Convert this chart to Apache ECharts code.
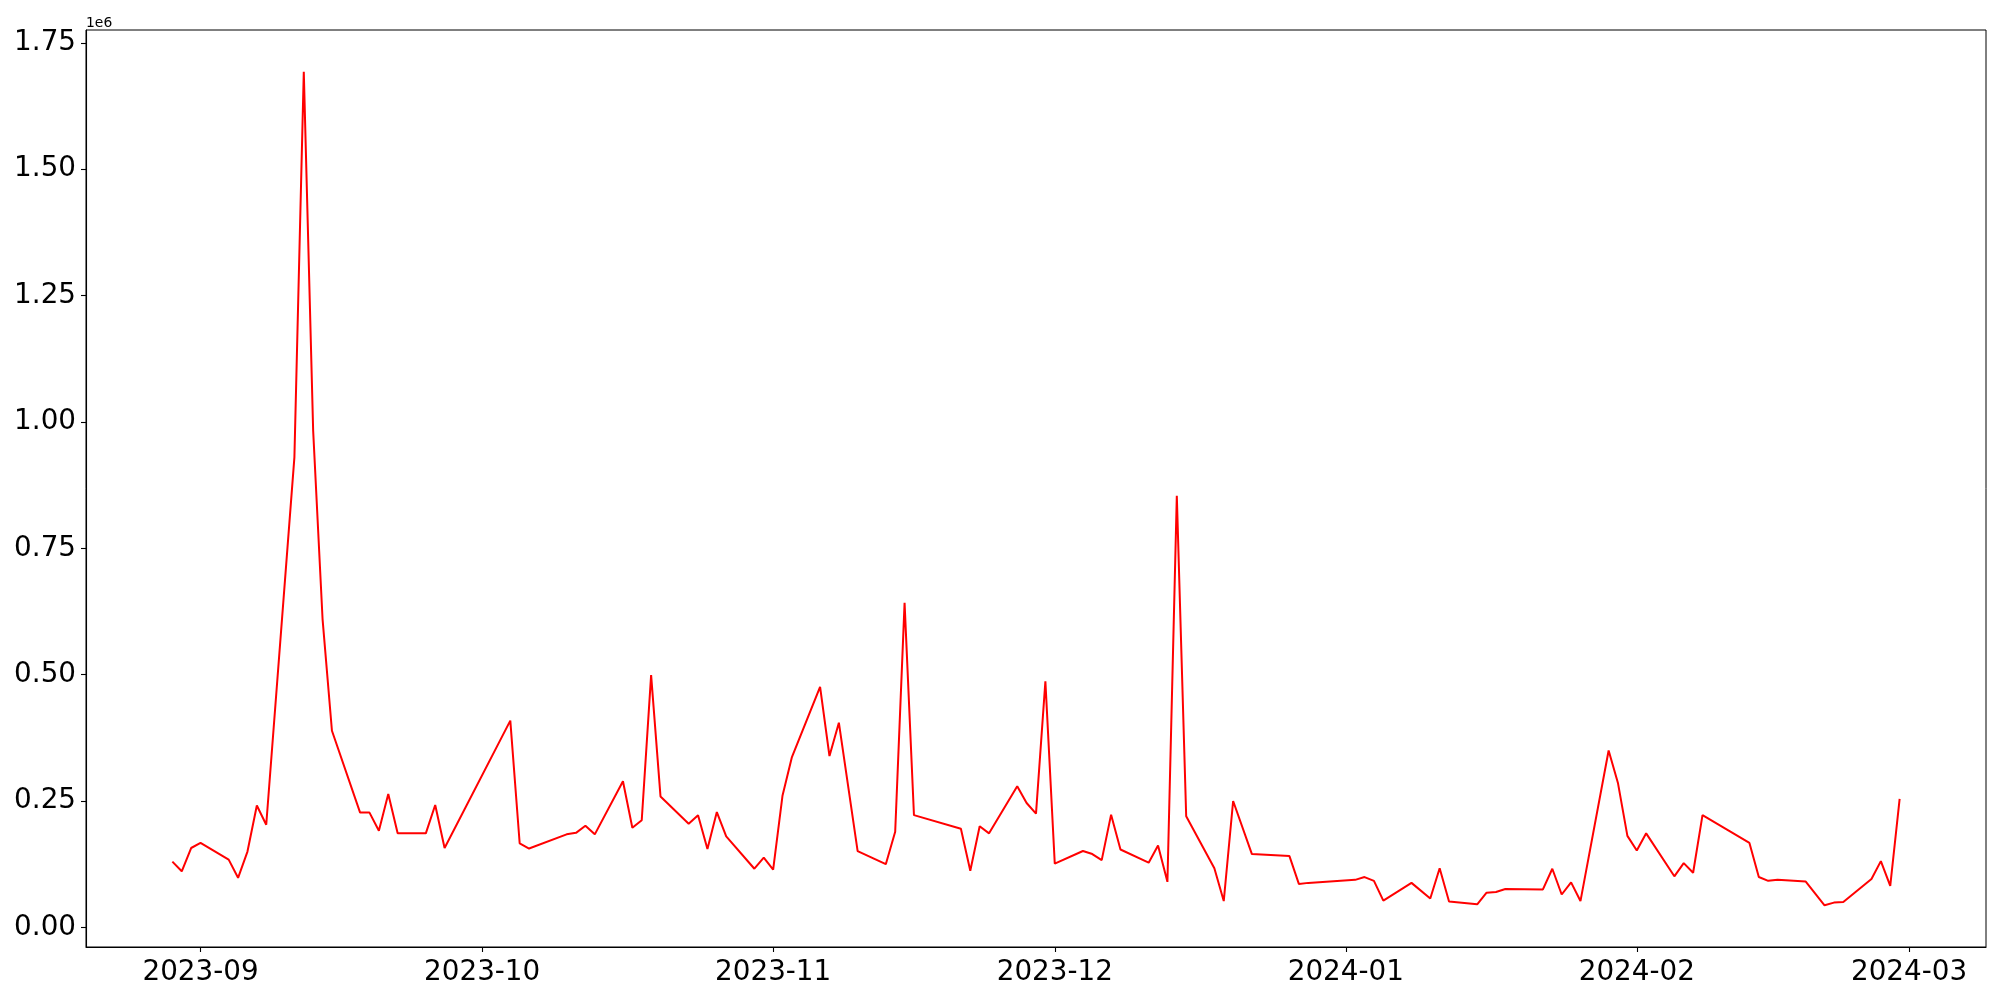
<!DOCTYPE html>
<html>
<head>
<meta charset="utf-8">
<script src="https://cdn.jsdelivr.net/npm/echarts@6/dist/echarts.min.js"></script>
<style>
html,body{margin:0;padding:0;background:#fff;}
#chart{width:2000px;height:1000px;}
</style>
</head>
<body>
<div id="chart"></div>
<script>
// ---- data ----
const dates = [
'2023-08-29','2023-08-30','2023-08-31','2023-09-01','2023-09-04','2023-09-05','2023-09-06','2023-09-07','2023-09-08',
'2023-09-11','2023-09-12','2023-09-13','2023-09-14','2023-09-15','2023-09-18','2023-09-19','2023-09-20','2023-09-21',
'2023-09-22','2023-09-25','2023-09-26','2023-09-27','2023-10-04','2023-10-05','2023-10-06','2023-10-10','2023-10-11',
'2023-10-12','2023-10-13','2023-10-16','2023-10-17','2023-10-18','2023-10-19','2023-10-20','2023-10-23','2023-10-24',
'2023-10-25','2023-10-26','2023-10-27','2023-10-30','2023-10-31','2023-11-01','2023-11-02','2023-11-03','2023-11-06',
'2023-11-07','2023-11-08','2023-11-10','2023-11-13','2023-11-14','2023-11-15','2023-11-16','2023-11-21','2023-11-22',
'2023-11-23','2023-11-24','2023-11-27','2023-11-28','2023-11-29','2023-11-30','2023-12-01','2023-12-04','2023-12-05',
'2023-12-06','2023-12-07','2023-12-08','2023-12-11','2023-12-12','2023-12-13','2023-12-14','2023-12-15','2023-12-18',
'2023-12-19','2023-12-20','2023-12-22','2023-12-26','2023-12-27','2023-12-28','2024-01-02','2024-01-03','2024-01-04',
'2024-01-05','2024-01-08','2024-01-10','2024-01-11','2024-01-12','2024-01-15','2024-01-16','2024-01-17','2024-01-18',
'2024-01-22','2024-01-23','2024-01-24','2024-01-25','2024-01-26','2024-01-29','2024-01-30','2024-01-31','2024-02-01',
'2024-02-02','2024-02-05','2024-02-06','2024-02-07','2024-02-08','2024-02-13','2024-02-14','2024-02-15','2024-02-16',
'2024-02-19','2024-02-21','2024-02-22','2024-02-23','2024-02-26','2024-02-27','2024-02-28','2024-02-29'
];
const values = [
130000,111000,157000,167000,134000,98000,150000,241000,203000,
930000,1693000,982000,610000,389000,227000,227000,191000,264000,
186000,186000,242000,157000,409000,166000,156000,184000,187000,
201000,184000,289000,197000,212000,499000,259000,205000,222000,
155000,228000,180000,116000,138000,114000,261000,337000,476000,
339000,405000,151000,125000,189000,642000,222000,195000,112000,
200000,186000,279000,246000,225000,487000,126000,151000,145000,
133000,223000,154000,128000,162000,90000,854000,220000,117000,
52000,250000,145000,141000,86000,88000,94000,99500,92000,
53000,88000,57000,117000,51000,45500,68700,70000,75900,
75000,116000,65000,89000,52000,350000,285000,181000,152000,
186000,101000,127000,108000,222000,167000,99700,92000,94400,
90500,43600,49000,50000,95700,131000,82000,254000
];
const xTickLabels = ['2023-09','2023-10','2023-11','2023-12','2024-01','2024-02','2024-03'];
const yTickValues = [0,250000,500000,750000,1000000,1250000,1500000,1750000];
const yOffsetText = '1e6';

// ---- build ----
function toTs(s){const p=s.split('-').map(Number);return Date.UTC(p[0],p[1]-1,p[2]||1);}
const seriesData = dates.map((d,i)=>[toTs(d), values[i]]);
const xTickValues = xTickLabels.map(toTs);
const first = toTs(dates[0]), last = toTs(dates[dates.length-1]);
const span = last-first;
const xMin = first - 0.05*span, xMax = last + 0.05*span;
const vMin = Math.min(...values), vMax = Math.max(...values);
const vSpan = vMax - vMin;
const yMin = vMin - 0.05*vSpan, yMax = vMax + 0.05*vSpan;

const FONT = 'DejaVu Sans';
const chart = echarts.init(document.getElementById('chart'), null, {renderer:'canvas'});
chart.setOption({
  animation:false,
  backgroundColor:'#fff',
  grid:{left:86, right:14, top:30, bottom:53, show:true, borderColor:'#000', borderWidth:1, backgroundColor:'transparent'},
  xAxis:{
    type:'value', min:xMin, max:xMax, scale:true,
    splitLine:{show:false},
    axisLine:{show:true, onZero:false, lineStyle:{color:'#000', width:1.1}},
    axisTick:{show:true, length:5, lineStyle:{color:'#000', width:1.1}, customValues:xTickValues},
    axisLabel:{customValues:xTickValues, color:'#000', fontFamily:FONT, fontSize:27.8, margin:12,
      formatter:function(v){const i=xTickValues.indexOf(v);return i>=0?xTickLabels[i]:'';}}
  },
  yAxis:{
    type:'value', min:yMin, max:yMax,
    name:yOffsetText, nameLocation:'end', nameGap:0,
    nameTextStyle:{align:'left', verticalAlign:'bottom', fontFamily:FONT, fontSize:13.9, color:'#000', padding:[0,0,0,0]},
    splitLine:{show:false},
    axisLine:{show:true, onZero:false, lineStyle:{color:'#000', width:1.1}},
    axisTick:{show:true, length:5, lineStyle:{color:'#000', width:1.1}, customValues:yTickValues},
    axisLabel:{customValues:yTickValues, color:'#000', fontFamily:FONT, fontSize:27.8, margin:10,
      formatter:function(v){return (v/1e6).toFixed(2);}}
  },
  series:[{
    type:'line', data:seriesData, showSymbol:false, symbol:'none',
    lineStyle:{color:'#ff0000', width:2}, itemStyle:{color:'#ff0000'}
  }]
});
</script>
</body>
</html>
